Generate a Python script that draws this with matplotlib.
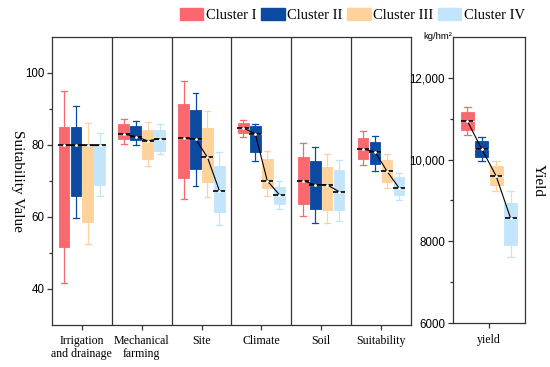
import matplotlib
matplotlib.use("Agg")
import matplotlib.pyplot as plt
from matplotlib.patches import Patch
from matplotlib.ticker import FixedLocator, FixedFormatter

# categories on the left panel
categories = ["Irrigation\nand drainage", "Mechanical\nfarming", "Site", "Climate", "Soil", "Suitability"]
clusters = ["Cluster I", "Cluster II", "Cluster III", "Cluster IV"]
colors = ["#F8686E", "#0B4AA0", "#FDD29B", "#C2E5FB"]

# box stats per category: one tuple per cluster (whislo, q1, med, q3, whishi)
irrigation = [(41.7, 51.6, 80.0, 85.0, 94.9), (59.8, 65.8, 80.0, 85.0, 90.7),
              (52.4, 58.5, 80.0, 80.0, 86.0), (65.8, 68.8, 80.0, 80.0, 83.3)]
mechanical = [(80.2, 81.6, 83.0, 85.9, 87.3), (80.0, 81.2, 82.3, 85.3, 86.6),
              (74.0, 76.0, 81.1, 84.0, 86.3), (77.5, 78.4, 81.7, 84.2, 85.7)]
site = [(64.9, 70.7, 81.8, 91.4, 97.7), (68.6, 73.2, 81.6, 89.6, 94.3),
        (65.4, 69.8, 76.5, 84.8, 89.3), (57.7, 61.4, 67.2, 74.1, 77.9)]
climate = [(82.1, 83.3, 84.7, 86.0, 86.8), (75.5, 77.9, 83.0, 85.3, 85.9),
           (65.8, 68.1, 70.0, 76.0, 78.3), (62.1, 63.5, 66.2, 68.4, 69.9)]
soil = [(60.2, 63.7, 70.0, 76.6, 80.5), (58.2, 62.1, 68.9, 75.5, 79.5),
        (58.3, 61.9, 68.9, 73.9, 77.4), (58.9, 61.9, 67.0, 73.0, 75.9)]
suitability = [(74.4, 76.0, 78.8, 82.0, 83.7), (72.8, 74.6, 78.1, 80.8, 82.5),
               (68.0, 69.8, 72.7, 75.8, 77.4), (64.7, 66.0, 68.1, 71.0, 72.3)]
left_data = [irrigation, mechanical, site, climate, soil, suitability]

# yield (kg/hm2)
yield_data = [(10590, 10725, 10950, 11170, 11290), (9960, 10063, 10265, 10443, 10547),
              (9240, 9378, 9603, 9845, 9967), (7617, 7908, 8571, 8950, 9233)]
yield_ticks = [6000, 8000, 10000, 12000]
yield_labels = ["6000", "8000", "10,000", "12,000"]

offsets = [-0.3, -0.1, 0.1, 0.3]
width = 0.18

serif = "Liberation Serif"
sans = "Liberation Sans"


def draw_group(ax, center, stats_list, marker_size):
    xs, meds = [], []
    for k, st in enumerate(stats_list):
        lo, q1, med, q3, hi = st
        x = center + offsets[k]
        c = colors[k]
        stats = [dict(whislo=lo, q1=q1, med=med, q3=q3, whishi=hi, fliers=[])]
        ax.bxp(stats, positions=[x], widths=width, patch_artist=True, showfliers=False,
               boxprops=dict(facecolor=c, edgecolor=c, linewidth=0.6),
               whiskerprops=dict(color=c, linewidth=0.9),
               capprops=dict(color=c, linewidth=0.9),
               medianprops=dict(color="white", linewidth=0.8),
               capwidths=width * 0.55, manage_ticks=False)
        xs.append(x)
        meds.append(med)
    # black line linking the medians, short black dash on each box
    ax.plot(xs, meds, color="black", lw=0.8, marker="_", ms=marker_size, mew=1.2, zorder=5)
    ax.scatter(xs, meds, s=4, color="white", zorder=6, linewidths=0)


def style_axis(a):
    for lab in a.get_yticklabels():
        lab.set_fontfamily(sans)
        lab.set_fontsize(8.3)
    a.tick_params(axis="both", which="major", length=3.5, width=0.9, color="#333333", pad=2)
    a.tick_params(axis="y", which="minor", length=2.5, width=0.9, color="#333333")
    for s in a.spines.values():
        s.set_color("#333333")
        s.set_linewidth(0.9)


fig = plt.figure(figsize=(5.5, 3.67), dpi=100)

ax = fig.add_axes([0.0945, 0.1144, 0.6525, 0.7856])
for i, grp in enumerate(left_data):
    draw_group(ax, i, grp, 8)
for i in range(len(categories) - 1):
    ax.axvline(i + 0.5, color="#333333", lw=0.9)
ax.set_xlim(-0.5, len(categories) - 0.5)
ax.set_ylim(30, 110)
ax.set_xticks(range(len(categories)))
ax.set_xticklabels(categories, fontfamily=serif, fontsize=8.6, linespacing=1.05)
ax.yaxis.set_major_locator(FixedLocator([40, 60, 80, 100]))
ax.yaxis.set_minor_locator(FixedLocator([50, 70, 90]))
style_axis(ax)
ax.tick_params(axis="x", pad=4)
ax.set_ylabel("Suitability Value", fontfamily=serif, fontsize=11, rotation=270)
ax.yaxis.set_label_coords(-0.115, 0.5)

ax2 = fig.add_axes([0.823, 0.119, 0.1315, 0.781])
draw_group(ax2, 0, yield_data, 8)
ax2.set_xlim(-0.5, 0.5)
ax2.set_ylim(6000, 13000)
ax2.set_xticks([0])
ax2.set_xticklabels(["yield"], fontfamily=serif, fontsize=8.6)
ax2.yaxis.set_major_locator(FixedLocator(yield_ticks))
ax2.yaxis.set_major_formatter(FixedFormatter(yield_labels))
ax2.yaxis.set_minor_locator(FixedLocator([7000, 9000, 11000]))
style_axis(ax2)
ax2.tick_params(axis="x", pad=4)
ax2.yaxis.set_label_position("right")
ax2.set_ylabel("Yield", fontfamily=serif, fontsize=11, rotation=270, labelpad=14)

fig.text(0.822, 0.9, "kg/hm²", fontfamily=sans, fontsize=6.8, ha="right", va="center")

handles = [Patch(facecolor=c, edgecolor=c) for c in colors]
fig.legend(handles, clusters, loc="center right", bbox_to_anchor=(0.966, 0.958), ncol=4,
           frameon=False, prop=dict(family=serif, size=10.5), handlelength=1.6,
           handleheight=0.85, handletextpad=0.2, columnspacing=0.3, borderaxespad=0)

fig.savefig("out.png", dpi=100)
